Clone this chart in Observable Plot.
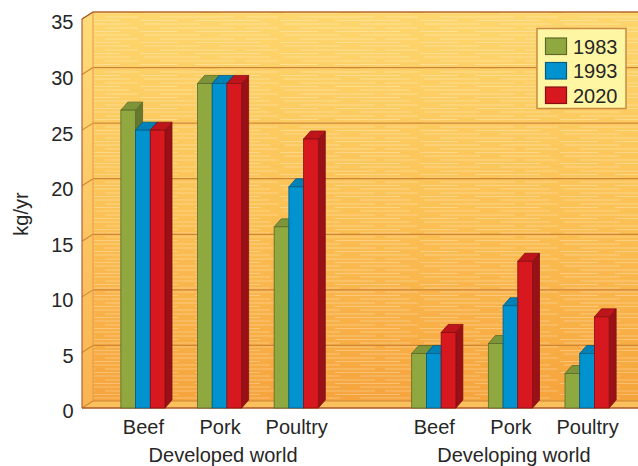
<!DOCTYPE html>
<html>
<head>
<meta charset="utf-8">
<script src="https://cdn.jsdelivr.net/npm/d3@7"></script>
<script src="https://cdn.jsdelivr.net/npm/@observablehq/plot@0.6"></script>
<style>
  html, body { margin: 0; padding: 0; background: #fff; }
  #chart { position: relative; width: 638px; height: 466px; }
</style>
</head>
<body>
<div id="chart"></div>
<script>
// Meat consumption per person, kg/yr
const regions = ["Developed world", "Developing world"];
const meats = ["Beef", "Pork", "Poultry"];
const years = ["1983", "1993", "2020"];
const yearColors = ["#8fa83f", "#0093d0", "#d7181f"];

const developed1983 = [26.8, 29.2, 16.3];
const developed1993 = [25.0, 29.2, 19.9];
const developed2020 = [25.0, 29.2, 24.2];
const developing1983 = [4.9, 5.8, 3.1];
const developing1993 = [4.9, 9.2, 4.9];
const developing2020 = [6.8, 13.2, 8.2];

const yTicks = [0, 5, 10, 15, 20, 25, 30, 35];

const series = {
  "Developed world": [developed1983, developed1993, developed2020],
  "Developing world": [developing1983, developing1993, developing2020]
};
const rows = [];
for (const region of regions) {
  meats.forEach((meat, m) => {
    years.forEach((year, k) => {
      rows.push({region, meat, year, value: series[region][k][m]});
    });
  });
}

// depth of the box walls and of the bars (pixels, oblique projection)
const WALL = {dx: 11, dy: -7};
const BAR = {dx: 7, dy: -8};
const M = {top: 19, bottom: 58, left: 82, right: -10};
const W = 638, H = 466;
const FONT = "'Liberation Sans', Arial, sans-serif";

// draws each bar as a front face, a top face and a right side face
function bars3d(index, scales, values) {
  const g = d3.create("svg:g");
  const bandwidth = typeof scales.x.bandwidth === "function" ? scales.x.bandwidth() : scales.scales.x.bandwidth;
  const bw = bandwidth / years.length;
  for (const i of index) {
    const k = years.indexOf(rows[i].year);
    const x0 = values.x[i] + k * bw, x1 = x0 + bw;
    const yt = Math.min(values.y1[i], values.y2[i]);
    const yb = Math.max(values.y1[i], values.y2[i]);
    const c = d3.color(values.fill[i]);
    const edge = c.darker(1.3).formatHex();
    const pts = (a) => a.map((p) => p.join(",")).join(" ");
    g.append("polygon")
      .attr("points", pts([[x1, yb], [x1 + BAR.dx, yb + BAR.dy], [x1 + BAR.dx, yt + BAR.dy], [x1, yt]]))
      .attr("fill", c.darker(0.95).formatHex()).attr("stroke", edge).attr("stroke-width", 0.8)
      .attr("stroke-linejoin", "round");
    g.append("polygon")
      .attr("points", pts([[x0, yt], [x0 + BAR.dx, yt + BAR.dy], [x1 + BAR.dx, yt + BAR.dy], [x1, yt]]))
      .attr("fill", c.darker(0.35).formatHex()).attr("stroke", edge).attr("stroke-width", 0.8)
      .attr("stroke-linejoin", "round");
    g.append("rect")
      .attr("x", x0).attr("y", yt).attr("width", bw).attr("height", yb - yt)
      .attr("fill", c.formatHex()).attr("stroke", edge).attr("stroke-width", 0.8);
  }
  return g.node();
}

const chart = Plot.plot({
  width: W,
  height: H,
  marginTop: M.top,
  marginBottom: M.bottom,
  marginLeft: M.left,
  marginRight: M.right,
  style: {
    fontFamily: FONT,
    fontSize: "20px",
    color: "#262626",
    background: "transparent",
    overflow: "visible"
  },
  fx: {domain: regions, paddingInner: 0.054, paddingOuter: 0, round: false},
  x: {domain: meats, paddingInner: 0.424, paddingOuter: 0.507, round: false},
  y: {domain: [0, 35]},
  color: {domain: years, range: yearColors},
  marks: [
    Plot.axisY({
      ticks: yTicks, tickSize: 0, tickPadding: 9, fontSize: 20, dy: 3.5,
      label: "kg/yr", labelAnchor: "center", labelArrow: "none", labelOffset: 69
    }),
    Plot.axisX({tickSize: 0, tickPadding: 11, fontSize: 20, label: null}),
    Plot.axisFx({anchor: "bottom", tickSize: 0, tickPadding: 39, fontSize: 20, dx: 3, label: null}),
    Plot.barY(rows, {
      fx: "region", x: "meat", y1: 0, y2: "value", fill: "year",
      render: bars3d
    })
  ]
});

document.getElementById("chart").appendChild(chart);

// back wall, side wall, floor and grid drawn behind the bars on the y scale
const y = chart.scale("y");
const color = chart.scale("color");
const svg = d3.select(chart);
const defs = svg.insert("defs", ":first-child");

const wallGrad = defs.append("linearGradient").attr("id", "wall-grad")
  .attr("x1", 0).attr("y1", 0).attr("x2", 0).attr("y2", 1);
wallGrad.append("stop").attr("offset", "0%").attr("stop-color", "#fdd66d");
wallGrad.append("stop").attr("offset", "50%").attr("stop-color", "#fbc256");
wallGrad.append("stop").attr("offset", "100%").attr("stop-color", "#f6a43d");

const sideGrad = defs.append("linearGradient").attr("id", "side-grad")
  .attr("x1", 0).attr("y1", 0).attr("x2", 0).attr("y2", 1);
sideGrad.append("stop").attr("offset", "0%").attr("stop-color", "#fedb7a");
sideGrad.append("stop").attr("offset", "100%").attr("stop-color", "#f9b450");

const streaks = defs.append("pattern").attr("id", "streaks")
  .attr("patternUnits", "userSpaceOnUse").attr("width", 140).attr("height", 11);
[[4, 2, 60], [80, 2, 130], [20, 6, 95], [105, 6, 138], [0, 9.5, 38], [55, 9.5, 120]].forEach(([a, yy, b]) => {
  streaks.append("line").attr("x1", a).attr("x2", b).attr("y1", yy).attr("y2", yy)
    .attr("stroke", "#fff").attr("stroke-opacity", 0.28).attr("stroke-width", 1);
});

const bg = svg.insert("g", "g");
const xL = M.left, xB = M.left + WALL.dx, xR = W + 30;
const yTop = y.apply(35), yBot = y.apply(0);
const pts = (a) => a.map((p) => p.join(",")).join(" ");
const lineColor = "#cf8536";

bg.append("rect").attr("x", xB).attr("y", yTop + WALL.dy).attr("width", xR - xB).attr("height", yBot - yTop)
  .attr("fill", "url(#wall-grad)");
bg.append("rect").attr("x", xB).attr("y", yTop + WALL.dy).attr("width", xR - xB).attr("height", yBot - yTop)
  .attr("fill", "url(#streaks)");
bg.append("polygon").attr("points", pts([[xL, yTop], [xB, yTop + WALL.dy], [xB, yBot + WALL.dy], [xL, yBot]]))
  .attr("fill", "url(#side-grad)");
bg.append("polygon").attr("points", pts([[xL, yBot], [xB, yBot + WALL.dy], [xR, yBot + WALL.dy], [xR, yBot]]))
  .attr("fill", "#f9c05d");

for (const t of yTicks) {
  const yy = y.apply(t);
  bg.append("line").attr("x1", xB).attr("x2", xR).attr("y1", yy + WALL.dy).attr("y2", yy + WALL.dy)
    .attr("stroke", lineColor).attr("stroke-width", 1.2);
  bg.append("line").attr("x1", xL).attr("x2", xB).attr("y1", yy).attr("y2", yy + WALL.dy)
    .attr("stroke", lineColor).attr("stroke-width", 1.1);
}
bg.append("line").attr("x1", xB).attr("x2", xB).attr("y1", yTop + WALL.dy).attr("y2", yBot + WALL.dy)
  .attr("stroke", "#e49a45").attr("stroke-width", 1);

const frame = "#a8582a";
bg.append("polyline").attr("points", pts([[xL, yBot], [xL, yTop], [xB, yTop + WALL.dy], [xR, yTop + WALL.dy]]))
  .attr("fill", "none").attr("stroke", frame).attr("stroke-width", 1.1);
bg.append("line").attr("x1", xL).attr("x2", xR).attr("y1", yBot).attr("y2", yBot)
  .attr("stroke", frame).attr("stroke-width", 1.3);

// legend box for the three years
const lg = svg.append("g").attr("font-family", FONT).attr("font-size", 20).attr("text-anchor", "start");
lg.append("rect").attr("x", 537).attr("y", 28.5).attr("width", 89).attr("height", 80)
  .attr("fill", "#fff6a4").attr("stroke", "#c98a3f").attr("stroke-width", 1.5);
years.forEach((yr, k) => {
  const c = d3.color(color.apply(yr));
  const top = 38 + k * 24.5;
  lg.append("rect").attr("x", 545.5).attr("y", top).attr("width", 21).attr("height", 16.5)
    .attr("fill", c.formatHex()).attr("stroke", c.darker(1.3).formatHex()).attr("stroke-width", 1.2);
  lg.append("text").attr("x", 573).attr("y", top + 15.5).attr("fill", "#262626")
    .attr("text-anchor", "start").text(yr);
});
</script>
</body>
</html>
